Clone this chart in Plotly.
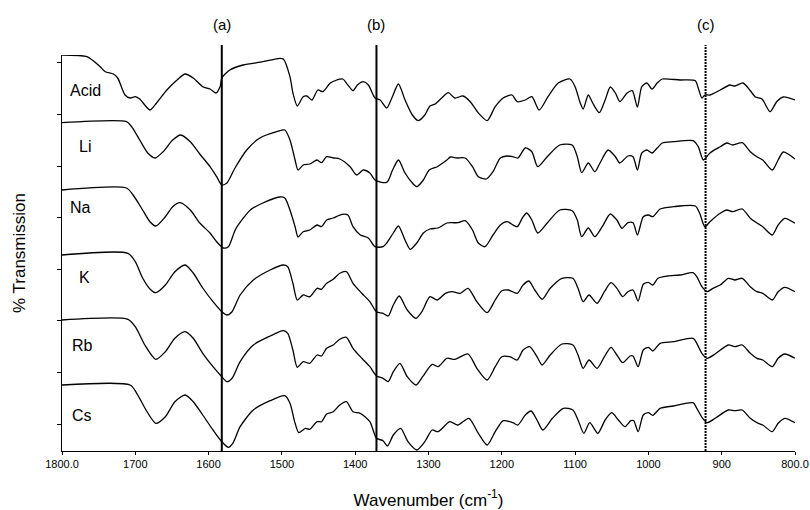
import plotly.graph_objects as go

acid = [(1800,396),(1766,394.3),(1748,384.3),(1741,379.3),(1730,377),(1724,373),(1714,356),(1707,353),
        (1700,354.3),(1694,352),(1680,341),(1671,348),(1657,361),(1643,371),(1632,377),(1621,373),
        (1608,364.3),(1598,362),(1590,358),(1584,365),(1582,373),(1571,381),(1553,386),(1526,389.3),
        (1503,392.7),(1498,392),(1489,374.3),(1485,358),(1479,345),(1471,354.3),(1466,355),(1459,351),
        (1451,361),(1444,359.3),(1434,368),(1425,371),(1417,372),(1410,366),(1403,360.3),(1397,366),
        (1389,369.3),(1382,366),(1373,353),(1366,351),(1357,343),(1350,353),(1341,367),(1332,351),
        (1322,336),(1314,330.3),(1305,336),(1298,345),(1291,347),(1282,353),(1273,358.3),(1264,353),
        (1253,355),(1243,349.3),(1232,338),(1220,330.3),(1209,344.3),(1198,353),(1186,356),(1179,349.3),
        (1168,351),(1159,354.3),(1149,341),(1137,354.3),(1123,368),(1107,372),(1100,364.3),(1093,348),
        (1089,342),(1082,356),(1076,348),(1067,338.3),(1059,351),(1052,364),(1045,358),(1039,349.3),
        (1029,358),(1022,360.3),(1015,344),(1009,364.3),(1002,368),(995,362),(988,368),(981,372),
        (957,371),(936,370.3),(932,363),(927,353),(923,356),(916,356),(902,361),(889,366),(882,365),
        (871,368),(861,360.3),(854,354),(845,352),(834,339.3),(825,349.3),(816,354),(800,351)]

li = [(1800,328.3),(1712,329.3),(1705,324.3),(1694,311),(1683,298),(1673,293),(1662,299.3),(1649,311),
      (1638,316),(1625,309.3),(1612,297),(1598,284.3),(1589,274.3),(1582,266),(1575,268),(1564,283),
      (1548,301),(1530,313),(1507,319.3),(1496,321),(1489,311),(1482,291),(1478,281),(1471,286),
      (1462,287),(1452,291),(1446,288.3),(1439,294.3),(1430,293),(1421,292),(1407,284.3),(1398,276),
      (1389,281),(1380,278),(1373,271),(1362,268.3),(1356,269.3),(1349,281),(1341,291),(1332,278),
      (1322,268),(1316,264.3),(1307,271),(1299,281),(1288,284.3),(1275,291),(1270,294),(1261,293),
      (1250,293),(1240,284.3),(1232,274.3),(1221,272),(1212,279.3),(1202,293),(1193,295),(1185,294.3),
      (1178,293),(1168,303),(1159,299.3),(1151,284.3),(1138,294.3),(1121,306),(1104,306),(1097,294.3),
      (1091,278.3),(1082,288),(1073,279.3),(1066,288),(1055,301),(1045,294.3),(1039,288),(1028,295),
      (1021,294.3),(1015,281),(1009,298),(1002,301),(995,298),(988,303),(981,308),(966,309.3),
      (939,310.3),(932,304.3),(925,291),(916,298),(902,304.3),(893,308),(885,306),(872,308.3),
      (861,299.3),(852,294.3),(844,291),(831,281),(823,291),(816,299),(800,292)]

na = [(1800,261),(1712,263),(1703,256),(1690,241),(1680,229.3),(1672,225),(1659,234.3),(1649,244.3),
      (1639,248.3),(1625,241),(1612,228),(1598,218),(1589,209.3),(1580,203),(1573,204.3),(1563,222),
      (1543,241),(1526,248),(1503,254),(1496,253),(1489,241),(1482,224.3),(1478,214),(1471,219.3),
      (1462,221),(1452,226),(1446,224.3),(1439,231),(1430,233),(1418,236.7),(1410,236),(1403,224.3),
      (1393,216),(1382,213),(1373,204.3),(1362,204.3),(1357,208),(1348,218),(1341,225),(1332,211),
      (1325,201.7),(1316,208),(1307,218),(1298,222),(1287,223),(1275,228),(1268,228.3),(1260,228.3),
      (1250,230.3),(1240,221),(1232,208),(1223,204.3),(1212,216),(1202,226),(1193,229.3),(1179,224.3),
      (1172,233),(1166,238),(1159,231),(1151,218),(1138,228),(1121,241),(1104,240.3),(1097,231),
      (1091,214.3),(1082,223),(1073,214.3),(1063,224.3),(1052,237),(1043,231),(1036,222.7),(1028,228.3),
      (1021,228.3),(1015,216),(1007,234.3),(1000,236),(994,234.3),(984,242),(966,244.3),(936,245),
      (930,237.7),(923,224.3),(916,229.3),(902,237.7),(893,241),(885,239.3),(872,242),(861,232.7),
      (852,228),(844,224.3),(831,216),(823,226),(814,232.7),(800,227.7)]

k = [(1800,196),(1710,197.7),(1700,189.3),(1690,173),(1680,162),(1672,158.3),(1659,166),(1646,179.3),
     (1632,186),(1621,178),(1608,163),(1594,149.3),(1582,139.3),(1575,136),(1568,139.3),(1557,156),
     (1539,171),(1516,181),(1498,186),(1492,184.3),(1485,167.7),(1479,151),(1471,156),(1462,154.3),
     (1452,162.7),(1446,161.7),(1439,167.7),(1430,171.7),(1421,177.7),(1412,179.3),(1403,167.7),
     (1391,157.7),(1380,149.3),(1371,139.3),(1362,137.7),(1355,135),(1348,146),(1340,155),(1329,141),
     (1317,132.7),(1309,139.3),(1298,154.3),(1288,151),(1277,157.7),(1268,159.3),(1257,157.7),
     (1246,162.7),(1234,149.3),(1220,138.3),(1209,151),(1200,160.3),(1191,161),(1179,157.7),(1171,166),
     (1163,170),(1155,161),(1145,151.7),(1134,162.7),(1118,172.7),(1103,172.7),(1096,162.7),(1089,149.3),
     (1081,156),(1070,147.7),(1060,159.3),(1051,168.3),(1043,162.7),(1035,154.3),(1028,159.3),(1021,161),
     (1014,150),(1007,166.7),(1000,168.7),(994,166),(987,172.7),(974,175),(957,176),(939,178.3),
     (934,174.3),(927,164.3),(920,159.3),(912,162.7),(902,166),(891,172.7),(882,171),(872,172.7),
     (861,164.3),(852,159.3),(844,157.7),(831,151),(823,159.3),(814,163.7),(800,159.3)]

rb = [(1800,131),(1710,131.7),(1700,124.3),(1687,106),(1672,91.7),(1659,99.3),(1646,112.7),(1632,119.3),
      (1621,112.7),(1608,97.7),(1594,84.3),(1582,74.3),(1575,69.3),(1568,72.7),(1557,89.3),(1539,106),
      (1516,115),(1498,120.3),(1492,117.7),(1485,101),(1479,83.7),(1471,89.3),(1462,87.7),(1452,96),
      (1446,95),(1439,102.7),(1430,106),(1421,111.7),(1412,113.7),(1403,102.7),(1391,92.7),(1380,84.3),
      (1371,75),(1362,72.7),(1355,69.3),(1348,79.3),(1339,87.7),(1329,74.3),(1317,66),(1308,74.3),
      (1295,86.7),(1287,84.3),(1275,92.7),(1264,91.7),(1246,97),(1234,82.7),(1220,71),(1209,84.3),
      (1200,94.3),(1189,94.3),(1179,91),(1171,101),(1162,104.3),(1152,94.3),(1145,86),(1134,96),
      (1118,107),(1103,106),(1096,96),(1089,82.7),(1081,91),(1070,82.7),(1060,94.3),(1051,103.7),
      (1043,96),(1035,88.3),(1025,95),(1021,95),(1014,84.3),(1007,101),(1000,103.7),(994,100),
      (984,107.7),(966,109.3),(939,112.7),(934,107.7),(927,97.7),(920,92.7),(909,97),(891,106),
      (882,104.3),(872,106),(861,97.7),(852,92.7),(844,91),(831,84.3),(823,92.7),(814,97),(800,92.7)]

cs = [(1800,66),(1707,66),(1698,57.7),(1684,39.3),(1672,27.7),(1659,34.3),(1646,49.3),(1632,56),
      (1621,49.3),(1608,36),(1594,21),(1582,9.3),(1573,3.7),(1567,7.7),(1557,24.3),(1539,41),(1516,50.3),
      (1496,55.3),(1489,47.7),(1482,27.7),(1477,18.3),(1468,22.7),(1462,21.7),(1452,29.3),(1446,29.3),
      (1439,37),(1430,39.3),(1421,46),(1412,49.3),(1403,39.3),(1393,37.7),(1380,29.3),(1371,12.7),
      (1362,10.3),(1356,5),(1348,16),(1338,22.7),(1328,9.3),(1316,1),(1305,9.3),(1295,21),(1287,19.3),
      (1271,29.3),(1260,26),(1245,32.7),(1232,17.7),(1220,6),(1209,19.3),(1198,30.3),(1185,28.3),
      (1178,26),(1168,36),(1160,40),(1152,31),(1144,21),(1131,32.7),(1116,42.7),(1103,41),(1096,31),
      (1088,17.7),(1080,28.3),(1069,17.7),(1059,31),(1050,38.3),(1041,31),(1032,24.3),(1024,30.3),
      (1020,30.3),(1014,19.3),(1007,36),(1000,38.3),(994,35.7),(984,42.7),(966,45),(939,48.3),
      (934,42.7),(926,32.7),(920,28.3),(909,32.7),(891,41),(882,40.3),(872,41),(861,32.7),(852,28.3),
      (844,26),(831,19.3),(823,27.7),(814,32.7),(800,28.3)]

series_names = ["Acid", "Li", "Na", "K", "Rb", "Cs"]
series_data = [acid, li, na, k, rb, cs]
label_x = [1792, 1780, 1792, 1780, 1789, 1789]
label_y = [361, 305, 244, 174, 106, 36]

marker_wn = [1582, 1371, 922]
marker_labels = ["(a)", "(b)", "(c)"]
marker_dash = ["solid", "solid", "2px,1px"]

x_ticks = [1800, 1700, 1600, 1500, 1400, 1300, 1200, 1100, 1000, 900, 800]
x_ticktext = ["1800.0", "1700", "1600", "1500", "1400", "1300", "1200", "1100", "1000", "900", "800.0"]
y_ticks = [27, 78.6, 130.2, 181.8, 233.4, 285, 336.6, 388.2]

FONT = "Liberation Sans, Arial, sans-serif"

fig = go.Figure()
for name, data in zip(series_names, series_data):
    xs = [p[0] for p in data]
    ys = [p[1] for p in data]
    fig.add_trace(go.Scatter(x=xs, y=ys, mode="lines", name=name,
                             line=dict(color="black", width=1.3, shape="spline", smoothing=0.7),
                             showlegend=False, hoverinfo="skip"))

for name, lx, ly in zip(series_names, label_x, label_y):
    fig.add_annotation(x=lx, y=ly, text=name, showarrow=False, xanchor="left", yanchor="middle",
                       font=dict(family=FONT, size=16, color="black"))

for wn, lab, dash in zip(marker_wn, marker_labels, marker_dash):
    fig.add_shape(type="line", xref="x", yref="paper", x0=wn, x1=wn, y0=0, y1=1.025,
                  line=dict(color="black", width=2, dash=dash))
    fig.add_annotation(x=wn, xref="x", y=1.076, yref="paper", text=lab, showarrow=False,
                       xanchor="center", yanchor="middle", font=dict(family=FONT, size=15, color="black"))

fig.update_layout(
    width=810, height=510,
    margin=dict(l=62, r=15, t=55, b=59, autoexpand=False),
    paper_bgcolor="white", plot_bgcolor="white",
    font=dict(family=FONT, color="black"),
    xaxis=dict(range=[1800, 800], tickvals=x_ticks, ticktext=x_ticktext, ticks="outside", ticklen=3,
               tickcolor="black", showline=True, linecolor="black", linewidth=1, showgrid=False,
               zeroline=False, tickfont=dict(size=11, family=FONT), automargin=False,
               title=dict(text="Wavenumber (cm<sup>-1</sup>)", font=dict(size=17, family=FONT), standoff=24)),
    yaxis=dict(range=[0, 396], tickvals=y_ticks, showticklabels=False, ticks="outside", ticklen=4,
               tickcolor="black", showline=True, linecolor="black", linewidth=1, showgrid=False,
               zeroline=False, automargin=False,
               title=dict(text="% Transmission", font=dict(size=17, family=FONT), standoff=27)),
)

fig.write_html("out.html", config={"displayModeBar": False},
               post_script="document.body.style.margin='0px';document.body.style.overflow='hidden';")
